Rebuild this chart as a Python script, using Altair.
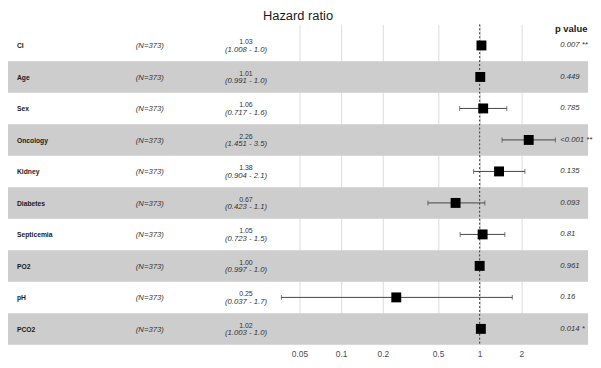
import altair as alt
import pandas as pd

# ---- data ----
variables = ["CI", "Age", "Sex", "Oncology", "Kidney", "Diabetes",
             "Septicemia", "PO2", "pH", "PCO2"]
n_obs = [373, 373, 373, 373, 373, 373, 373, 373, 373, 373]
hr = [1.03, 1.01, 1.06, 2.26, 1.38, 0.67, 1.05, 1.00, 0.25, 1.02]
ci_low = [1.008, 0.991, 0.717, 1.451, 0.904, 0.423, 0.723, 0.997, 0.037, 1.003]
ci_high = [1.049, 1.03, 1.57, 3.52, 2.12, 1.09, 1.52, 1.003, 1.72, 1.037]
ci_text = ["(1.008 - 1.0)", "(0.991 - 1.0)", "(0.717 - 1.6)", "(1.451 - 3.5)",
           "(0.904 - 2.1)", "(0.423 - 1.1)", "(0.723 - 1.5)", "(0.997 - 1.0)",
           "(0.037 - 1.7)", "(1.003 - 1.0)"]
p_text = ["0.007 **", "0.449", "0.785", "<0.001 **", "0.135", "0.093",
          "0.81", "0.961", "0.16", "0.014 *"]
x_ticks = [0.05, 0.1, 0.2, 0.5, 1, 2]

nrow = len(variables)
df = pd.DataFrame({
    "var": variables,
    "n": [f"(N={v})" for v in n_obs],
    "hr": hr,
    "lo": ci_low,
    "hi": ci_high,
    "hr_txt": [f"{v:.2f}" for v in hr],
    "ci_txt": ci_text,
    "p": p_text,
    "pos": [nrow - i for i in range(nrow)],
    "band": [i % 2 == 1 for i in range(nrow)],
})
df["pos_lo"] = df["pos"] - 0.5
df["pos_hi"] = df["pos"] + 0.5

header = pd.DataFrame({"label": ["p value"], "pos": [nrow + 0.5]})

W, H = 585, 323
xs = alt.Scale(type="log", domain=[0.000393, 6.06], nice=False, zero=False)
ys = alt.Scale(domain=[0.5, nrow + 0.67], nice=False, zero=False)

base = alt.Chart(df)

xaxis = alt.Axis(values=x_ticks, title=None, domain=False, ticks=False,
                 labelFontSize=8.5, labelColor="#4d4d4d", labelPadding=5,
                 grid=True, gridColor="#dcdcdc", gridWidth=1,
                 labelExpr="datum.value")

bands = base.transform_filter("datum.band").mark_rect(color="#cdcdcd").encode(
    x=alt.value(0), x2=alt.value(W),
    y=alt.Y("pos_lo:Q", scale=ys, axis=None), y2="pos_hi:Q",
)

gridcarrier = base.mark_point(opacity=0).encode(
    x=alt.X("hr:Q", scale=xs, axis=xaxis),
    y=alt.Y("pos:Q", scale=ys, axis=None),
)

ref = alt.Chart(pd.DataFrame({"v": [1]})).mark_rule(
    color="#333333", strokeDash=[2, 2], strokeWidth=1
).encode(x=alt.X("v:Q", scale=xs))

bars = base.mark_rule(color="#444444", strokeWidth=1).encode(
    x=alt.X("lo:Q", scale=xs), x2="hi:Q",
    y=alt.Y("pos:Q", scale=ys),
)
cap_lo = base.mark_tick(orient="vertical", size=5, thickness=1, color="#444444").encode(
    x=alt.X("lo:Q", scale=xs), y=alt.Y("pos:Q", scale=ys))
cap_hi = base.mark_tick(orient="vertical", size=5, thickness=1, color="#444444").encode(
    x=alt.X("hi:Q", scale=xs), y=alt.Y("pos:Q", scale=ys))

squares = base.mark_square(size=100, color="black", opacity=1, filled=True).encode(
    x=alt.X("hr:Q", scale=xs), y=alt.Y("pos:Q", scale=ys))

lbl = base.mark_text(align="left", baseline="middle", fontWeight="bold",
                     fontSize=6.8, color="#1a1a1a", dy=1).encode(
    x=alt.value(9), y=alt.Y("pos:Q", scale=ys), text="var:N")

ntxt = base.mark_text(align="center", baseline="middle", fontStyle="italic",
                      fontSize=7.8, color="#333333", dy=1).encode(
    x=alt.value(143), y=alt.Y("pos:Q", scale=ys), text="n:N")

hrtxt = base.mark_text(align="center", baseline="middle", fontSize=7,
                       color="#333333", dy=-3).encode(
    x=alt.value(240), y=alt.Y("pos:Q", scale=ys), text="hr_txt:N")

citxt = base.mark_text(align="center", baseline="middle", fontStyle="italic",
                       fontSize=7.8, color="#333333", dy=4.5).encode(
    x=alt.value(240), y=alt.Y("pos:Q", scale=ys), text="ci_txt:N")

ptxt = base.mark_text(align="left", baseline="middle", fontStyle="italic",
                      fontSize=7.8, color="#333333", dy=0).encode(
    x=alt.value(557), y=alt.Y("pos:Q", scale=ys), text="p:N")

phead = alt.Chart(header).mark_text(align="center", baseline="middle",
                                    fontWeight="bold", fontSize=9.5,
                                    color="#1a1a1a", dy=-1).encode(
    x=alt.value(568), y=alt.Y("pos:Q", scale=ys), text="label:N")

chart = alt.layer(
    gridcarrier, bands, ref, bars, cap_lo, cap_hi, squares,
    lbl, ntxt, hrtxt, citxt, ptxt, phead,
).properties(
    width=W, height=H,
    padding={"left": 0, "right": 0, "top": 0, "bottom": 0},
    title=alt.TitleParams("Hazard ratio", fontSize=13, fontWeight="normal",
                          anchor="middle", offset=1, color="#1a1a1a",
                          font="Liberation Sans"),
).configure(font="Liberation Sans").configure_view(strokeWidth=0)

chart.save("out.html", embed_options={"renderer": "svg", "actions": False})
